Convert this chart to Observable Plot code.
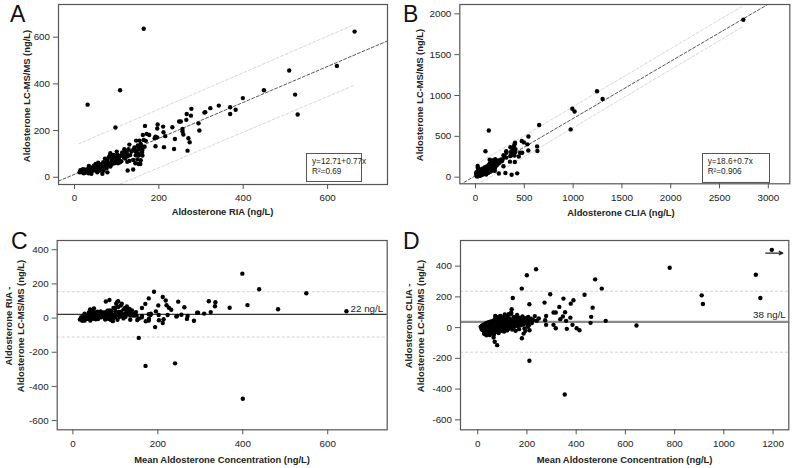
<!DOCTYPE html>
<html><head><meta charset="utf-8">
<script src="https://cdn.jsdelivr.net/npm/d3@7"></script>
<script src="https://cdn.jsdelivr.net/npm/@observablehq/plot@0.6"></script>
<style>
body{margin:0;background:#fff;}
#fig{position:relative;width:793px;height:468px;font-family:"Liberation Sans",Arial,sans-serif;color:#222;overflow:hidden;background:#fff;}
#fig svg{position:absolute;overflow:visible;}
.lbl{position:absolute;font-weight:bold;font-size:9.4px;white-space:nowrap;color:#222;transform:translate(-50%,-50%);text-align:center;line-height:11.6px;}
.rot{transform:translate(-50%,-50%) rotate(-90deg);}
.letter{position:absolute;font-size:23px;line-height:1;color:#111;}
.box{position:absolute;border:1px solid #555;font-size:8.2px;line-height:10.5px;padding:3px 0 0 5px;box-sizing:border-box;color:#222;background:#fff;white-space:nowrap;}
</style></head><body><div id="fig"></div><script>
// ---------- Data: panel A (RIA, LC-MS/MS) pairs in ng/L ----------
const pairsA = [
[164,636],[31,311],[108,373],[97,213],[664,624],[509,457],[622,477],[449,373],[523,354],[529,269],
[399,339],[369,300],[382,289],[369,271],[342,307],[322,296],[310,279],[308,277],[277,293],[266,271],
[276,264],[265,246],[294,231],[296,200],[252,239],[248,239],[232,214],[256,207],[256,196],[258,183],
[238,164],[236,121],[270,167],[273,150],[268,114],[211,193],[215,176],[210,217],[197,226],[196,209],
[192,174],[196,171],[190,167],[192,133],[212,129],[167,220],[171,186],[177,181],[162,181],[164,160],
[169,156],[154,157],[157,143],[146,157],[151,129],[144,114],[161,117],[166,131],[152,93],[161,93],
[139,74],[144,60],[152,57],[156,57],[125,66],[126,29],[139,33],
[130,140],[150,136],[158,134],[139,117],[145,111],[153,119],[160,107],[152,100],[145,94],[149,76],
[157,73],[113,106],[118,99],[122,110],[111,93],[117,86],[126,90],[105,76],[111,69],[103,60],
[98,72],[85,103],[93,96],[81,86],[90,79],[78,72],[68,64],[74,57],[81,51],[63,46],[76,39],[85,46],
[50,57],[54,46],[42,42],[46,29],[58,32],[36,29],[24,32],[28,26],[17,21],[22,17],[33,17],[12,21],
[40,15],[54,21],[60,29],[66,15],[78,21],[69,29],[14,30],[20,28],[26,20],[30,35],[35,40],[38,22],
[44,35],[48,40],[52,30],[56,62],[62,55],[65,38],[70,48],[72,80],[75,66],[80,60],[84,95],[88,70],
[92,88],[95,60],[100,84],[102,96],[106,88],[108,64],[115,96],[120,80],[124,104],[128,120],[132,95],
[135,110],[142,128],[148,104],[100,110],[118,120],[130,70],[88,55],[60,40],[46,50],[34,48],[20,35]
];
// ---------- Data: panel B (CLIA, LC-MS/MS) pairs in ng/L, separated points ----------
const pairsB = [
[2744,1927],[1245,1052],[1302,958],[992,838],[1015,805],[975,585],[652,638],[542,498],[532,402],[541,327],
[631,377],[634,320],[496,426],[474,443],[427,47],[370,29],[306,52],[239,46],[403,186],[353,190],
[286,134],[443,254],[478,300],[456,300],[399,264],[366,268],[357,259],[405,305],[382,310],[363,308],
[381,337],[409,344],[316,240],[298,250],[287,269],[317,299],[315,319],[358,366],[394,376],[400,404],
[405,422],[232,195],[206,201],[202,219],[183,204],[167,206],[145,214],[198,78],[185,87],[169,82],
[133,89],[129,53],[109,33],[22,65],[32,97],[136,571],[102,318],[22,136],[23,115]
];
// dense low-concentration cluster of the CLIA series as [mean, CLIA - LC-MS/MS]
const cloudD = [
[12,5],[15,-8],[17,12],[19,-15],[20,3],[22,18],[24,-5],[25,-22],[27,8],[28,-12],[30,25],[31,-3],
[33,-30],[34,10],[36,-18],[37,30],[38,0],[40,-40],[41,15],[43,-8],[44,35],[46,-25],[47,5],[49,-48],
[50,20],[52,-12],[53,40],[55,-2],[56,-35],[58,12],[60,28],[61,-20],[63,45],[64,2],[66,-45],[67,18],
[69,-8],[70,55],[72,30],[73,-28],[75,8],[76,70],[78,-15],[80,42],[81,0],[83,22],[85,-35],[86,60],
[88,10],[90,-5],[91,35],[93,75],[95,-20],[96,15],[98,48],[100,-10],[102,28],[103,65],[105,5],
[107,-25],[108,40],[110,85],[112,18],[114,-5],[115,55],[117,30],[119,-18],[120,75],[122,10],
[124,42],[126,-8],[128,25],[130,60],[132,0],[134,35],[136,90],[138,15],[140,-12],[142,50],[144,28],
[146,70],[148,5],[150,40],[152,18],[154,-20],[156,60],[158,30],[160,82],[162,10],[164,48],[166,25],
[168,-10],[170,65],[172,35],[175,15],[177,55],[180,40],[182,72],[185,20],[188,50],[190,-5],[193,35],
[196,62],[199,25],[202,45],[205,70],[208,15],[212,40],[216,58],[220,30],[225,50],[232,75],[240,45],
[248,60],[26,-40],[35,-50],[45,20],[58,-28],[32,15],[18,-2],[42,-15],[55,25],[65,-5]
];
// regression fits and prediction bands (as printed / read)
const fitA = {intercept: 12.71, slope: 0.77, r2: "0.69"};
const fitB = {intercept: 18.6, slope: 0.7, r2: "0.906"};
const bandA = [{x: 10, lo: -104, hi: 143}, {x: 662, lo: 393, hi: 653}];
const bandB = [{x: 17, lo: -93, hi: 164}, {x: 2743, lo: 1845, hi: 2101}];
// Bland-Altman summary values
const baC = {mean: 22, lo: -111, hi: 154};
const baD = {mean: 38, lo: -160, hi: 237};
// off-scale marker in panel D (point beyond the axis, drawn at the edge with an arrow)
const offScaleD = [{mean: 1195, diff: 506, from: 1170, to: 1240, ay: 485}];
// axis ticks
const ticksA = {x: [0,200,400,600], y: [0,200,400,600]};
const ticksB = {x: [0,500,1000,1500,2000,2500,3000], y: [0,500,1000,1500,2000]};
const ticksC = {x: [0,200,400,600], y: [-600,-400,-200,0,200,400]};
const ticksD = {x: [0,200,400,600,800,1000,1200], y: [-600,-400,-200,0,200,400]};

// ---------- derived tables ----------
const allB = pairsB.concat(cloudD.map(([m, d]) => [m + d / 2, m - d / 2]));
const dataA = pairsA.map(([a, b]) => ({x: a, y: b}));
const dataB = allB.map(([a, b]) => ({x: a, y: b}));
const dataC = pairsA.map(([a, b]) => ({mean: (a + b) / 2, diff: a - b}));
const dataD = allB.map(([a, b]) => ({mean: (a + b) / 2, diff: a - b}));

const fig = document.getElementById("fig");
const FONT = "'Liberation Sans', Arial, sans-serif";

function axes(t) {
  return [
    Plot.axisX(t.x, {tickSize: 5, tickPadding: 5, label: null, stroke: "#555", fill: "#222", tickFormat: d => String(d)}),
    Plot.axisY(t.y, {tickSize: 5, tickPadding: 3.5, label: null, stroke: "#555", fill: "#222", tickFormat: d => String(d)})
  ];
}

function panel(o) {
  const svg = Plot.plot({
    width: o.width, height: o.height,
    marginTop: o.m[0], marginRight: o.m[1], marginBottom: o.m[2], marginLeft: o.m[3],
    x: {domain: o.xd}, y: {domain: o.yd},
    style: {fontFamily: FONT, fontSize: "9.8px", background: "transparent", overflow: "visible"},
    marks: [...o.marks, Plot.frame({stroke: "#555", strokeWidth: 1.2}), ...axes(o.ticks)]
  });
  svg.style.left = o.left + "px";
  svg.style.top = o.top + "px";
  fig.appendChild(svg);
}

function regLine(fit, xd) {
  return xd.map(x => ({x, y: fit.intercept + fit.slope * x}));
}
const bandStyle = {stroke: "#d2d2d2", strokeWidth: 0.9, strokeDasharray: "3,2", clip: true};
const regStyle = {stroke: "#444", strokeWidth: 0.9, strokeDasharray: "3,2", clip: true};

// Panel A
const xdA = [-38, 742], ydA = [-31, 740];
panel({left: 0, top: 0, width: 396, height: 220, m: [4, 9, 36, 58], xd: xdA, yd: ydA, ticks: ticksA,
  marks: [
    Plot.line(bandA, {x: "x", y: "hi", ...bandStyle}),
    Plot.line(bandA, {x: "x", y: "lo", ...bandStyle}),
    Plot.line(regLine(fitA, xdA), {x: "x", y: "y", ...regStyle}),
    Plot.dot(dataA, {x: "x", y: "y", r: 2.2, fill: "#000", clip: true})
  ]});

// Panel B
const xdB = [-161, 3220], ydB = [-81, 2114];
panel({left: 396, top: 0, width: 397, height: 220, m: [4, 3.7, 36.7, 63.3], xd: xdB, yd: ydB, ticks: ticksB,
  marks: [
    Plot.line(bandB, {x: "x", y: "hi", ...bandStyle}),
    Plot.line(bandB, {x: "x", y: "lo", ...bandStyle}),
    Plot.line(regLine(fitB, xdB), {x: "x", y: "y", ...regStyle}),
    Plot.dot(dataB, {x: "x", y: "y", r: 2.2, fill: "#000", clip: true})
  ]});

// Panel C
const xdC = [-37, 740], ydC = [-654, 454];
panel({left: 0, top: 220, width: 396, height: 248, m: [20, 9.3, 38.7, 56.7], xd: xdC, yd: ydC, ticks: ticksC,
  marks: [
    Plot.ruleY([baC.hi, baC.lo], {stroke: "#d2d2d2", strokeDasharray: "3,2"}),
    Plot.ruleY([baC.mean], {stroke: "#333", strokeWidth: 1.3}),
    Plot.text([baC], {y: "mean", frameAnchor: "right", text: d => d.mean + " ng/L", textAnchor: "end", dx: -4, dy: -5, fontSize: 9.8, fill: "#222"}),
    Plot.dot(dataC, {x: "mean", y: "diff", r: 2.2, fill: "#000", clip: true})
  ]});

// Panel D
const xdD = [-70, 1264], ydD = [-665, 567];
panel({left: 396, top: 220, width: 397, height: 248, m: [20, 4.7, 38.7, 64], xd: xdD, yd: ydD, ticks: ticksD,
  marks: [
    Plot.ruleY([baD.hi, baD.lo], {stroke: "#d2d2d2", strokeDasharray: "3,2"}),
    Plot.ruleY([baD.mean], {stroke: "#8a8a8a", strokeWidth: 2.2}),
    Plot.text([baD], {y: "mean", frameAnchor: "right", text: d => d.mean + " ng/L", textAnchor: "end", dx: -3, dy: -7, fontSize: 9.8, fill: "#222"}),
    Plot.dot(dataD, {x: "mean", y: "diff", r: 2.2, fill: "#000", clip: true}),
    Plot.dot(offScaleD, {x: "mean", y: "diff", r: 2.2, fill: "#000"}),
    Plot.arrow(offScaleD, {x1: "from", x2: "to", y1: "ay", y2: "ay", stroke: "#222", strokeWidth: 1.2, headLength: 5, headAngle: 50})
  ]});

// ---------- text: letters, axis labels, fit boxes ----------
function addDiv(cls, html, x, y, extra = "") {
  const d = document.createElement("div");
  d.className = cls;
  d.innerHTML = html;
  d.style.cssText += `left:${x}px;top:${y}px;${extra}`;
  fig.appendChild(d);
  return d;
}
addDiv("letter", "A", 10, 3);
addDiv("letter", "B", 403, 3);
addDiv("letter", "C", 11, 230);
addDiv("letter", "D", 403, 230);

addDiv("lbl", "Aldosterone RIA (ng/L)", 222.5, 212);
addDiv("lbl", "Aldosterone CLIA (ng/L)", 621, 213);
addDiv("lbl", "Mean Aldosterone Concentration (ng/L)", 222, 459.5);
addDiv("lbl", "Mean Aldosterone Concentration (ng/L)", 624.5, 459.5);
addDiv("lbl rot", "Aldosterone LC-MS/MS (ng/L)", 26.7, 95.8);
addDiv("lbl rot", "Aldosterone LC-MS/MS (ng/L)", 419.7, 95);
addDiv("lbl rot", "Aldosterone RIA -<br>Aldosterone LC-MS/MS (ng/L)", 15, 325.5);
addDiv("lbl rot", "Aldosterone CLIA -<br>Aldosterone LC-MS/MS (ng/L)", 415, 325.5);

addDiv("box", `y=${fitA.intercept}+${fitA.slope}x<br>R²=${fitA.r2}`, 306, 152.7, "width:56px;height:29px;");
addDiv("box", `y=${fitB.intercept}+${fitB.slope}x<br>R²=${fitB.r2}`, 701.7, 152.7, "width:68px;height:30px;");
</script></body></html>
